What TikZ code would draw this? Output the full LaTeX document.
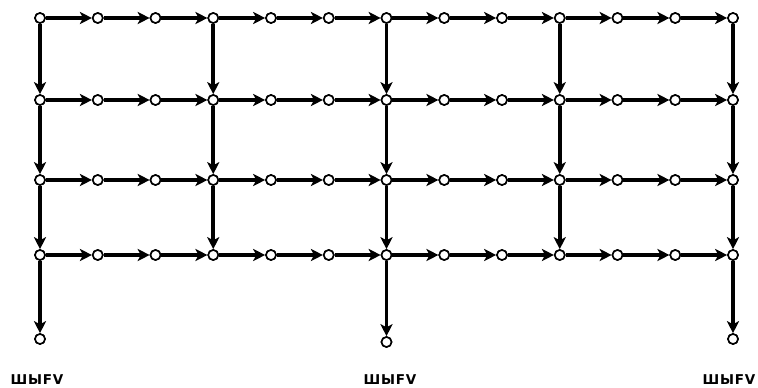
\documentclass[tikz,border=0pt]{standalone}
\usepackage{fontspec}
\setmainfont{DejaVu Sans}
\usetikzlibrary{arrows.meta}
\begin{document}
\begin{tikzpicture}[x=1pt,y=-1pt,
  pt/.style={circle,draw=black,fill=white,line width=1.6pt,inner sep=0pt,minimum size=10pt},
  link/.style={line width=3.6pt,-{Stealth[length=12pt,width=12pt,inset=3pt]}},
  lab/.style={font=\fontsize{13.5}{16}\selectfont\bfseries\addfontfeature{LetterSpace=6},inner sep=0pt}]
\useasboundingbox (0,0) rectangle (758,388);
% grid nodes
\foreach \r/\y in {0/18,1/100,2/180,3/255}{
  \foreach \c in {0,...,12}{
    \node[pt] (n-\r-\c) at ({40+57.75*\c},\y) {};
  }
}
\node[pt] (b0) at (40,339) {};
\node[pt] (b6) at (386.5,342) {};
\node[pt] (b12) at (733,339) {};
% horizontal links
\foreach \r in {0,...,3}{
  \foreach \c [evaluate=\c as \d using int(\c+1)] in {0,...,11}{
    \draw[link] (n-\r-\c) -- (n-\r-\d);
  }
}
% vertical links
\foreach \c in {0,3,6,9,12}{
  \foreach \r [evaluate=\r as \s using int(\r+1)] in {0,1,2}{
    \draw[link] (n-\r-\c) -- (n-\s-\c);
  }
}
\draw[link] (n-3-0) -- (b0);
\draw[link] (n-3-6) -- (b6);
\draw[link] (n-3-12) -- (b12);
% redraw nodes on top
\foreach \r/\y in {0/18,1/100,2/180,3/255}{
  \foreach \c in {0,...,12}{
    \node[pt] at ({40+57.75*\c},\y) {};
  }
}
\node[pt] at (40,339) {};
\node[pt] at (386.5,342) {};
\node[pt] at (733,339) {};
% labels
\node[lab] (l0) at (37,380) {ШЫFV};
\node[lab] (l6) at (390,380) {ШЫFV};
\node[lab] (l12) at (729,380) {ШЫFV};
\end{tikzpicture}
\end{document}
